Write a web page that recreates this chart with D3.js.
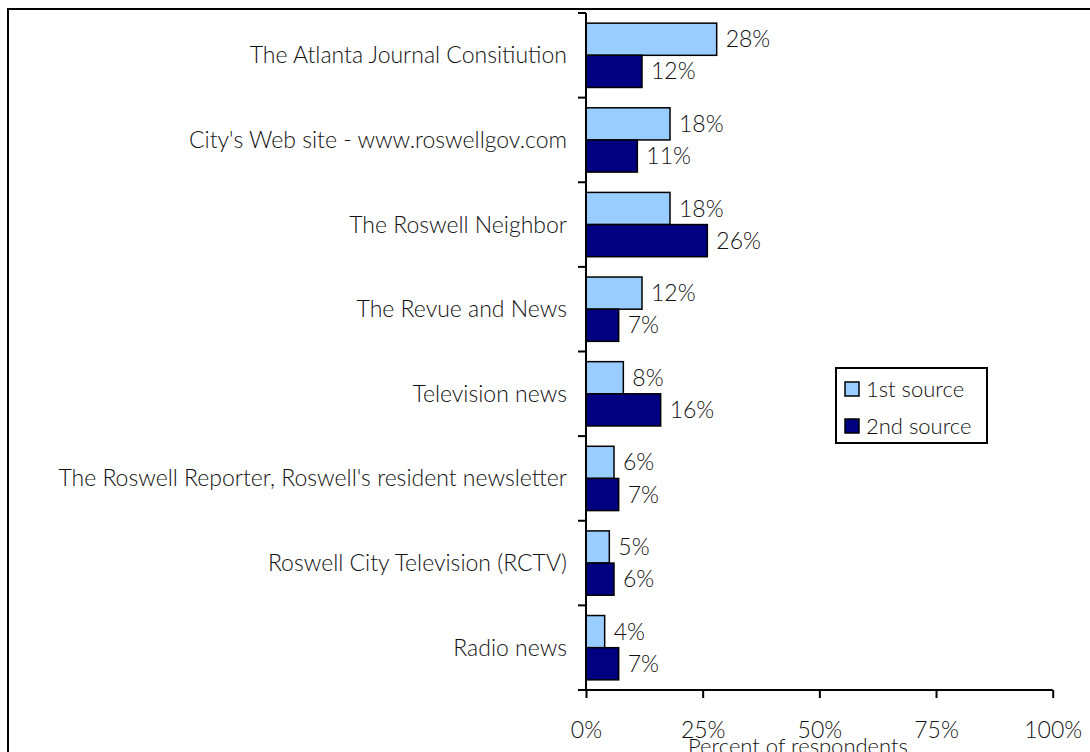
<!DOCTYPE html>
<html><head><meta charset="utf-8">
<script src="https://cdn.jsdelivr.net/npm/d3@7"></script>
<style>body{margin:0;background:#fff;} svg{display:block;} text{font-family:Lato, "Noto Sans", sans-serif;font-weight:300;fill:#111;}</style>
</head><body>
<svg id="c" width="1090" height="752"></svg>
<script>
const categories = ["The Atlanta Journal Consitiution","City's Web site - www.roswellgov.com","The Roswell Neighbor","The Revue and News","Television news","The Roswell Reporter, Roswell's resident newsletter","Roswell City Television (RCTV)","Radio news"];
const series = ["1st source","2nd source"];
const first = [28,18,18,12,8,6,5,4];
const second = [12,11,26,7,16,7,6,7];
const xTicks = [0,25,50,75,100];
const colors = ["#99CCFF","#000080"];

const svg = d3.select("#c");
const fs = 23;
svg.append("rect").attr("x",8).attr("y",9).attr("width",1100).attr("height",760).attr("fill","none").attr("stroke","#000").attr("stroke-width",2);

const x = d3.scaleLinear().domain([0,100]).range([586,1052.7]);
const y = d3.scaleBand().domain(categories).range([13,690]).paddingInner(0.24).paddingOuter(0.12);
const y1 = d3.scaleBand().domain(series).range([0,y.bandwidth()]);

const vals = [first, second];
const g = svg.append("g");
categories.forEach((c,i)=>{
  series.forEach((s,j)=>{
    const v = vals[j][i];
    g.append("rect").attr("x",x(0)).attr("y",y(c)+y1(s)).attr("width",x(v)-x(0)).attr("height",y1.bandwidth())
      .attr("fill",colors[j]).attr("stroke","#000").attr("stroke-width",1.5);
    g.append("text").attr("x",x(v)+9).attr("y",y(c)+y1(s)+y1.bandwidth()/2).attr("dy","0.35em")
      .attr("font-size",fs).text(v+"%");
  });
  svg.append("text").attr("x",567).attr("y",y(c)+y.bandwidth()/2).attr("dy","0.35em").attr("text-anchor","end")
    .attr("font-size",fs).text(c);
});

// y axis with boundary ticks
const step = (690-13)/categories.length;
svg.append("line").attr("x1",586).attr("x2",586).attr("y1",13).attr("y2",690).attr("stroke","#000").attr("stroke-width",2);
d3.range(categories.length+1).forEach(k=>{
  const yy = 13+k*step;
  svg.append("line").attr("x1",578).attr("x2",586).attr("y1",yy).attr("y2",yy).attr("stroke","#000").attr("stroke-width",2);
});

const xa = svg.append("g").attr("transform","translate(0,690)")
  .call(d3.axisBottom(x).tickValues(xTicks).tickSize(8).tickPadding(24).tickFormat(d=>d+"%"));
xa.select(".domain").attr("stroke","#000").attr("stroke-width",2).attr("d","M586,0H1052.7");
xa.selectAll(".tick line").attr("stroke","#000").attr("stroke-width",2);
xa.selectAll(".tick text").attr("font-size",fs).attr("font-family","Lato, 'Noto Sans', sans-serif").attr("fill","#111");

svg.append("text").attr("x",798).attr("y",754).attr("text-anchor","middle").attr("font-size",22).text("Percent of respondents");

// legend
const lg = svg.append("g");
lg.append("rect").attr("x",836).attr("y",368).attr("width",151).attr("height",75).attr("fill","#fff").attr("stroke","#000").attr("stroke-width",2);
series.forEach((s,j)=>{
  const cy = 389 + j*37;
  lg.append("rect").attr("x",845).attr("y",cy-7).attr("width",14).attr("height",14).attr("fill",colors[j]).attr("stroke","#000").attr("stroke-width",1.5);
  lg.append("text").attr("x",866).attr("y",cy).attr("dy","0.35em").attr("font-size",fs - 1).text(s);
});
</script>
</body></html>
